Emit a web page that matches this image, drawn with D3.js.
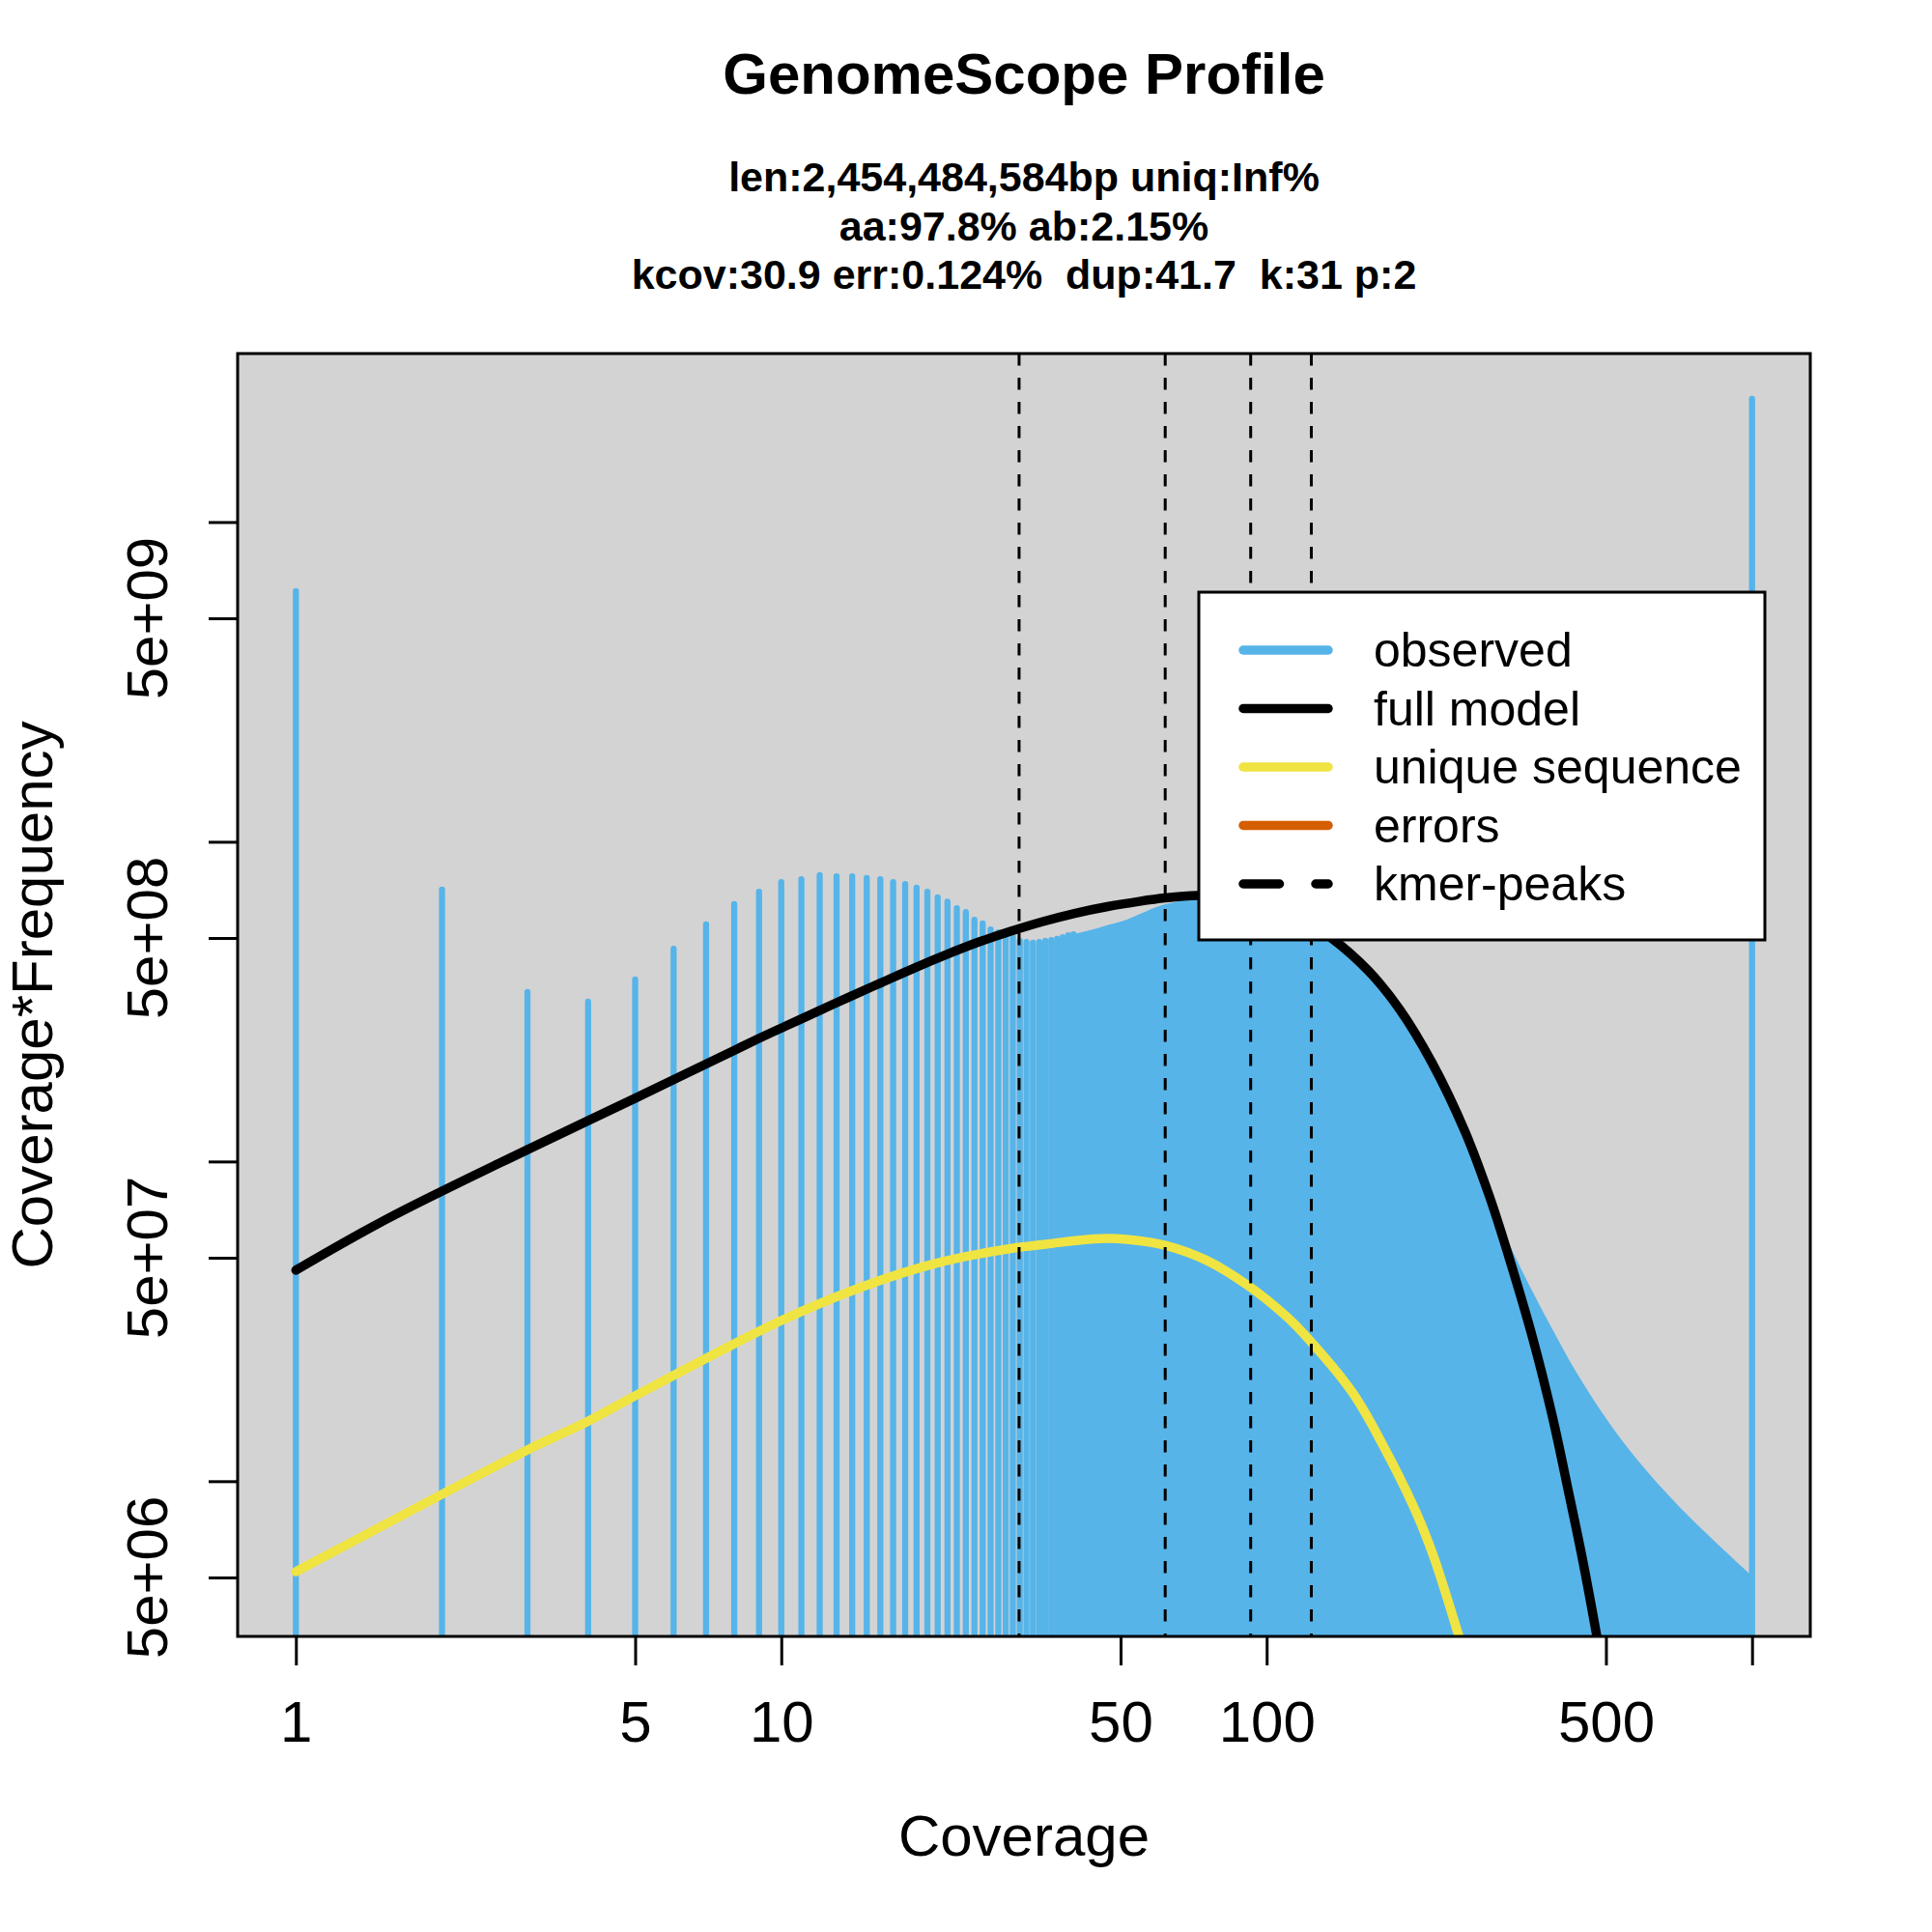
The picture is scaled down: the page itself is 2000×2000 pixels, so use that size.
<!DOCTYPE html>
<html>
<head>
<meta charset="utf-8">
<script src="https://cdn.jsdelivr.net/npm/d3@7"></script>
<style>
body{margin:0;background:#fff}
text{font-family:"Liberation Sans",Arial,Helvetica,sans-serif}
</style>
</head>
<body>
<svg id="chart" width="2000" height="2000"></svg>
<script>
// observed histogram, one line per coverage (coverage*frequency)
const observed_cov = [1,2,3,4,5,6,7,8,9,10,11,12,13,14,15,16,17,18,19,20,
                      21,22,23,24,25,26,27,28,29,30,31,32,33,34,35,36,37,38,39,40,1000]
const observed_val = [6.08e9,7.08e8,3.39e8,3.16e8,3.71e8,4.63e8,5.52e8,6.38e8,6.98e8,7.48e8,
                      7.64e8,7.86e8,7.8e8,7.8e8,7.7e8,7.64e8,7.48e8,7.38e8,7.18e8,6.98e8,
                      6.7e8,6.5e8,6.2e8,6.03e8,5.7e8,5.55e8,5.32e8,5.21e8,5.1e8,5.03e8,
                      4.9e8,4.86e8,4.83e8,4.86e8,4.9e8,4.93e8,4.97e8,5.03e8,5.1e8,5.14e8,2.43e10]
// where the lines merge into a solid block: outline of the observed histogram
const dense_cov = [40,44,47.5,51.5,55.5,60,64.5,72,81,91,111,135,162,188,219,256,288,311,
                   352,386,435,492,547,627,732,803,864,925,973,999]
const dense_val = [5.14e8,5.32e8,5.51e8,5.71e8,5.99e8,6.29e8,6.47e8,6.7e8,6.7e8,6.6e8,6.0e8,4.95e8,
                   3.9e8,2.95e8,2.0e8,1.22e8,7.8e7,5.83e7,3.95e7,3.03e7,2.185e7,1.632e7,1.306e7,
                   1.017e7,7.91e6,6.89e6,6.2e6,5.63e6,5.25e6,5.04e6]
const model_cov = [1,1.54,3,4.99,8.76,10.2,11.9,13.8,16.1,18.8,21.9,25.4,29.7,34.6,40.2,47,54.7,61.8,
                   71.9,80.7,90.4,111,135,162,188,219,256,288,315,354,388,419,449,479,510]
const model_val = [4.57e7,6.61e7,1.089e8,1.574e8,2.38e8,2.65e8,2.95e8,3.27e8,3.63e8,4.03e8,4.44e8,
                   4.845e8,5.25e8,5.63e8,5.97e8,6.27e8,6.51e8,6.67e8,6.79e8,6.76e8,6.66e8,6.07e8,5.04e8,
                   3.95e8,2.99e8,2.04e8,1.244e8,7.75e7,5.07e7,2.77e7,1.59e7,9.22e6,5.55e6,3.27e6,1.9e6]
const unique_cov = [1,2,3,4,5,10,14.7,20.8,30.1,35.1,44.1,51.5,62,75.3,91.6,110,119,150,174,203,221,249,270]
const unique_val = [5.21e6,9.1e6,1.253e7,1.54e7,1.85e7,3.18e7,4.06e7,4.8e7,5.36e7,5.51e7,5.73e7,5.71e7,
                    5.46e7,4.9e7,4.09e7,3.27e7,2.9e7,1.9e7,1.288e7,8.02e6,5.79e6,3.27e6,2.17e6]
const kmer_peaks = [30.9, 61.8, 92.7, 123.6]

const x_ticks = [1,5,10,50,100,500,1000]
const x_tick_labels = ["1","5","10","50","100","500",""]
const y_ticks = [5e6,1e7,5e7,1e8,5e8,1e9,5e9,1e10]
const y_tick_labels = ["5e+06","","5e+07","","5e+08","","5e+09",""]

const legend_labels = ["observed","full model","unique sequence","errors","kmer-peaks"]
const legend_colors = ["#56B4E9","#000000","#F0E442","#D55E00","#000000"]

const title = "GenomeScope Profile"
const subtitle_lines = ["len:2,454,484,584bp uniq:Inf%",
                        "aa:97.8% ab:2.15%",
                        "kcov:30.9 err:0.124%  dup:41.7  k:31 p:2"]

const plot = {left:246, top:366, right:1874, bottom:1694}

const svg = d3.select("#chart")

const x = d3.scaleLog().domain([10**-0.12, 10**3.12]).range([plot.left, plot.right])
const y = d3.scaleLog().domain([3.27e6, 3.365e10]).range([plot.bottom, plot.top])

svg.append("defs").append("clipPath").attr("id","plot-clip")
    .append("rect")
    .attr("x", plot.left).attr("y", plot.top)
    .attr("width", plot.right-plot.left).attr("height", plot.bottom-plot.top)

svg.append("rect")
    .attr("x", plot.left).attr("y", plot.top)
    .attr("width", plot.right-plot.left).attr("height", plot.bottom-plot.top)
    .attr("fill", "#D3D3D3")

const inner = svg.append("g").attr("clip-path","url(#plot-clip)")
const smooth = d3.curveCatmullRom.alpha(0.5)

// solid part of the histogram
const dense = dense_cov.map((c,i)=>({cov:c, val:dense_val[i]}))
inner.append("path")
    .datum(dense)
    .attr("fill", "#56B4E9")
    .attr("d", d3.area().x(d=>x(d.cov)).y0(plot.bottom+10).y1(d=>y(d.val)).curve(smooth))

inner.selectAll(".obs")
    .data(observed_cov.map((c,i)=>({cov:c, val:observed_val[i]})))
    .join("line")
    .attr("class","obs")
    .attr("x1", d=>x(d.cov)).attr("x2", d=>x(d.cov))
    .attr("y1", plot.bottom+10).attr("y2", d=>y(d.val))
    .attr("stroke", "#56B4E9")
    .attr("stroke-width", 6.3)
    .attr("stroke-linecap", "round")

const curve = d3.line().x(d=>x(d.cov)).y(d=>y(d.val)).curve(smooth)

inner.append("path")
    .datum(unique_cov.map((c,i)=>({cov:c, val:unique_val[i]})))
    .attr("fill","none").attr("stroke","#F0E442")
    .attr("stroke-width",9.5).attr("stroke-linecap","round").attr("stroke-linejoin","round")
    .attr("d", curve)

inner.append("path")
    .datum(model_cov.map((c,i)=>({cov:c, val:model_val[i]})))
    .attr("fill","none").attr("stroke","#000")
    .attr("stroke-width",9.5).attr("stroke-linecap","round").attr("stroke-linejoin","round")
    .attr("d", curve)

inner.selectAll(".peak")
    .data(kmer_peaks)
    .join("line")
    .attr("class","peak")
    .attr("x1", d=>x(d)).attr("x2", d=>x(d))
    .attr("y1", plot.top).attr("y2", plot.bottom)
    .attr("stroke","#000").attr("stroke-width",3)
    .attr("stroke-dasharray","12.5,12.5")

// frame
svg.append("rect")
    .attr("x", plot.left).attr("y", plot.top)
    .attr("width", plot.right-plot.left).attr("height", plot.bottom-plot.top)
    .attr("fill","none").attr("stroke","#000").attr("stroke-width",3)

// axes
const x_axis = svg.append("g")
    .attr("transform", `translate(0,${plot.bottom})`)
    .call(d3.axisBottom(x).tickValues(x_ticks)
        .tickFormat((d,i)=>x_tick_labels[i]).tickSize(30).tickPadding(36).tickSizeOuter(0))
x_axis.select(".domain").remove()
x_axis.selectAll("line").attr("stroke-width",3)
x_axis.selectAll("text").attr("font-size",60).attr("fill","#000")
    .style("font-family",'"Liberation Sans",Arial,sans-serif')

const y_axis = svg.append("g")
    .attr("transform", `translate(${plot.left},0)`)
    .call(d3.axisLeft(y).tickValues(y_ticks).tickFormat("").tickSize(30).tickSizeOuter(0))
y_axis.select(".domain").remove()
y_axis.selectAll("line").attr("stroke-width",3)

svg.selectAll(".ylab")
    .data(y_ticks.map((v,i)=>({v:v, label:y_tick_labels[i]})).filter(d=>d.label!==""))
    .join("text")
    .attr("class","ylab")
    .attr("transform", d=>`translate(173,${y(d.v)}) rotate(-90)`)
    .attr("text-anchor","middle")
    .attr("font-size",60)
    .text(d=>d.label)

// titles
svg.append("text")
    .attr("x",1060).attr("y",97)
    .attr("text-anchor","middle").attr("font-size",60).attr("font-weight","bold")
    .text(title)

svg.selectAll(".sub")
    .data(subtitle_lines)
    .join("text")
    .attr("class","sub")
    .attr("x",1060).attr("y",(d,i)=>198+i*50.5)
    .attr("text-anchor","middle").attr("font-size",43).attr("font-weight","bold")
    .style("white-space","pre")
    .text(d=>d)

svg.append("text")
    .attr("x",1060).attr("y",1921)
    .attr("text-anchor","middle").attr("font-size",60)
    .text("Coverage")

svg.append("text")
    .attr("transform","translate(54,1030) rotate(-90)")
    .attr("text-anchor","middle").attr("font-size",60)
    .text("Coverage*Frequency")

// legend
const legend = svg.append("g")
legend.append("rect")
    .attr("x",1241).attr("y",613).attr("width",586).attr("height",360)
    .attr("fill","#fff").attr("stroke","#000").attr("stroke-width",3)

const rows = legend.selectAll(".row")
    .data(legend_labels)
    .join("g")
    .attr("class","row")
    .attr("transform",(d,i)=>`translate(0,${673+i*60.5})`)

rows.append("line")
    .attr("x1",1287).attr("x2",1375)
    .attr("stroke",(d,i)=>legend_colors[i])
    .attr("stroke-width",9.5)
    .attr("stroke-linecap","round")
    .attr("stroke-dasharray",(d,i)=> d==="kmer-peaks" ? "37.5,37.5" : null)

rows.append("text")
    .attr("x",1422).attr("y",17)
    .attr("font-size",50)
    .text(d=>d)
</script>
</body>
</html>
